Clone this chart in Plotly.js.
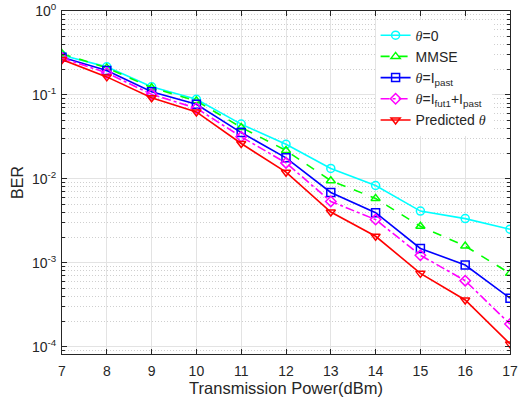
<!DOCTYPE html>
<html>
<head>
<meta charset="utf-8">
<script src="https://cdn.plot.ly/plotly-3.0.1.min.js"></script>
<style>html,body{margin:0;padding:0;background:#fff;}#chart{width:518px;height:402px;}</style>
</head>
<body>
<div id="chart"></div>
<script>
const power = [7, 8, 9, 10, 11, 12, 13, 14, 15, 16, 17];
const berTheta0 = [0.297, 0.216, 0.125, 0.0887, 0.0449, 0.0258, 0.0133, 0.00833, 0.00413, 0.00336, 0.00251];
const berMMSE = [0.31, 0.21, 0.122, 0.085, 0.041, 0.0218, 0.0095, 0.00585, 0.00272, 0.00158, 0.000748];
const berPast = [0.281, 0.195, 0.109, 0.0775, 0.0356, 0.0178, 0.00688, 0.00395, 0.00148, 0.00094, 0.000378];
const berFutPast = [0.276, 0.183, 0.1016, 0.0694, 0.0317, 0.0155, 0.00538, 0.00327, 0.00123, 0.000612, 0.000186];
const berPredicted = [0.264, 0.164, 0.0927, 0.0627, 0.0264, 0.012, 0.00402, 0.00207, 0.000748, 0.00036, 0.000108];
const TH = '<span style="font-family:Liberation Serif,serif;font-style:italic">θ</span>';
const seriesNames = [TH + '=0', 'MMSE', TH + '=I<sub>past</sub>', TH + '=I<sub>fut1</sub>+I<sub>past</sub>', 'Predicted ' + TH];
const xTicks = [7, 8, 9, 10, 11, 12, 13, 14, 15, 16, 17];
const yTickVals = [1, 0.1, 0.01, 0.001, 0.0001];
const yTickText = ['10<sup>0</sup>', '10<sup>-1</sup>', '10<sup>-2</sup>', '10<sup>-3</sup>', '10<sup>-4</sup>'];

const styles = [
  {color: '#00FFFF', dash: 'solid', symbol: 'circle-open'},
  {color: '#00FF00', dash: 'dash', symbol: 'triangle-up-open'},
  {color: '#0000FF', dash: 'solid', symbol: 'square-open'},
  {color: '#FF00FF', dash: 'dashdot', symbol: 'diamond-open'},
  {color: '#FF0000', dash: 'solid', symbol: 'triangle-down-open'}
];
const ys = [berTheta0, berMMSE, berPast, berFutPast, berPredicted];
const data = ys.map((y, i) => ({
  x: power, y: y, name: seriesNames[i], type: 'scatter', mode: 'lines+markers',
  line: {color: styles[i].color, width: 1.6, dash: styles[i].dash},
  marker: {symbol: styles[i].symbol, size: 8, color: styles[i].color, line: {color: styles[i].color, width: 1.5}}
}));

const font = {family: 'Liberation Sans, Arial, sans-serif', color: '#262626'};
const layout = {
  width: 518, height: 402,
  margin: {l: 62, r: 8, t: 11, b: 48},
  paper_bgcolor: '#fff', plot_bgcolor: '#fff',
  font: Object.assign({size: 14}, font),
  showlegend: true,
  legend: {x: 0.70, y: 0.975, xanchor: 'left', yanchor: 'top', bgcolor: '#fff', borderwidth: 0,
           font: Object.assign({size: 14}, font), tracegroupgap: 0},
  xaxis: {
    range: [7, 17], tickvals: xTicks, ticks: 'inside', ticklen: 5, tickcolor: '#262626',
    showline: true, linecolor: '#262626', linewidth: 1, mirror: 'ticks',
    showgrid: true, gridcolor: '#e3e3e3', gridwidth: 1, zeroline: false,
    tickfont: Object.assign({size: 14}, font), ticklabelstandoff: 4,
    title: {text: 'Transmission Power(dBm)', font: Object.assign({size: 16.5}, font), standoff: 3}
  },
  yaxis: {
    type: 'log', range: [-4.087, 0], tickvals: yTickVals, ticktext: yTickText,
    ticks: 'inside', ticklen: 5, tickcolor: '#262626',
    showline: true, linecolor: '#262626', linewidth: 1, mirror: 'ticks',
    showgrid: true, gridcolor: '#e3e3e3', gridwidth: 1, zeroline: false,
    tickfont: Object.assign({size: 14}, font), ticklabelstandoff: 2,
    minor: {dtick: 'D1', ticks: 'inside', ticklen: 3, tickcolor: '#262626', showgrid: true, gridcolor: '#cfcfcf', griddash: '1px,2px', gridwidth: 1},
    title: {text: 'BER', font: Object.assign({size: 16}, font), standoff: 4}
  }
};
Plotly.newPlot('chart', data, layout, {displayModeBar: false, staticPlot: true});
</script>
</body>
</html>
